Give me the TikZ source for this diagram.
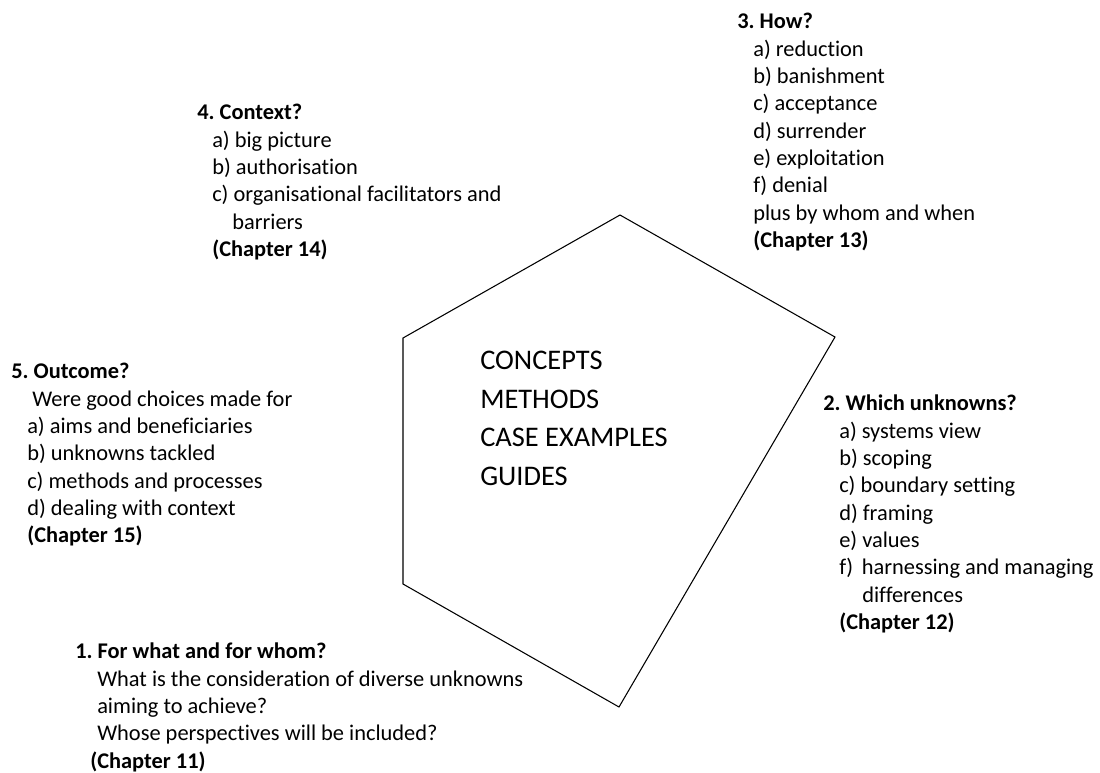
\documentclass[tikz,border=0pt]{standalone}
\usepackage{fontspec}
\setmainfont[Ligatures=NoCommon]{Carlito}
\usepackage{tikz}
\usetikzlibrary{positioning}
\frenchspacing
\tikzstyle{question} = [anchor=north west, align=left, inner sep=0pt, font=\fontsize{16.8}{20.5}\selectfont]
\tikzstyle{centretext} = [anchor=north west, align=left, inner sep=0pt, font=\fontsize{21.3}{28.9}\selectfont]
\tikzstyle{pentaline} = [draw=black, line width=0.8pt, line join=miter]
\newcommand{\ind}[1]{\hspace*{#1pt}}

\begin{document}
\begin{tikzpicture}[x=0.75pt, y=-0.75pt]
\useasboundingbox (0,0) rectangle (1100,772);
% pentagon corners
\coordinate (ptop) at (620,215);
\coordinate (pright) at (835,337);
\coordinate (pbottom) at (619,707);
\coordinate (plowleft) at (403,584);
\coordinate (pupleft) at (403,338);
\draw[pentaline] (ptop) -- (pright) -- (pbottom) -- (plowleft) -- (pupleft) -- cycle;

\node[centretext] (core) at (480,351) {CONCEPTS\\METHODS\\CASE EXAMPLES\\GUIDES};

\node[question] (how) at (737,13) {%
    \textbf{3. How?}\\
    \ind{12}a) reduction\\
    \ind{12}b) banishment\\
    \ind{12}c) acceptance\\
    \ind{12}d) surrender\\
    \ind{12}e) exploitation\\
    \ind{12}f) denial\\
    \ind{12}plus by whom and when\\
    \ind{12}\textbf{(Chapter 13)}};

\node[question] (context) at (197,104) {%
    \textbf{4. Context?}\\
    \ind{11.25}a) big picture\\
    \ind{11.25}b) authorisation\\
    \ind{11.25}c) organisational facilitators and\\
    \ind{26.25}barriers\\
    \ind{11.25}\textbf{(Chapter 14)}};

\node[question] (outcome) at (11,363) {%
    \textbf{5. Outcome?}\\
    \ind{15.75}Were good choices made for\\
    \ind{12}a) aims and beneficiaries\\
    \ind{12}b) unknowns tackled\\
    \ind{12}c) methods and processes\\
    \ind{12}d) dealing with context\\
    \ind{12}\textbf{(Chapter 15)}};

\node[question] (unknowns) at (823,395) {%
    \textbf{2. Which unknowns?}\\
    \ind{12}a) systems view\\
    \ind{12}b) scoping\\
    \ind{12}c) boundary setting\\
    \ind{12}d) framing\\
    \ind{12}e) values\\
    \ind{12}\makebox[1.01em][l]{f)}harnessing and managing\\
    \ind{29.25}differences\\
    \ind{12}\textbf{(Chapter 12)}};

\node[question] (forwhom) at (75,643) {%
    \textbf{1. For what and for whom?}\\
    \ind{16.5}What is the consideration of diverse unknowns\\
    \ind{16.5}aiming to achieve?\\
    \ind{16.5}Whose perspectives will be included?\\
    \ind{11.25}\textbf{(Chapter 11)}};
\end{tikzpicture}
\end{document}
